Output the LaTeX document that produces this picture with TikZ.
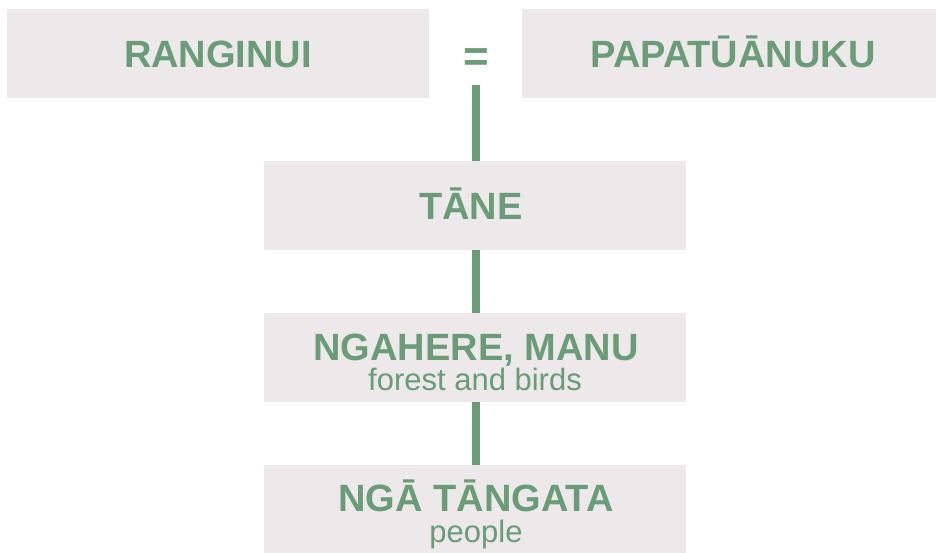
\documentclass[tikz,border=0pt]{standalone}
\usepackage{fontspec}
\setmainfont{Liberation Sans}
\definecolor{boxfill}{HTML}{EDE8E9}
\definecolor{leaf}{HTML}{6A9D77}
\begin{document}
\begin{tikzpicture}[x=1pt,y=-1pt,
  box/.style={fill=boxfill, draw=none, minimum width=422pt, minimum height=89pt, inner sep=0pt},
  head/.style={text=leaf, font=\fontsize{38}{40}\selectfont\bfseries, inner sep=0pt, anchor=base, text depth=0pt},
  sub/.style={text=leaf, font=\fontsize{31}{32}\selectfont, inner sep=0pt, anchor=base, text height=0.55em},
  conn/.style={draw=leaf, line width=8pt}]
\clip (0,0) rectangle (936,552);
\fill[white] (0,0) rectangle (936,552);
\node[box] (rangi) at (218,53.5) {};
\node[box] (papa) at (733,53.5) {};
\node[box] (tane) at (475,205.5) {};
\node[box] (ngahere) at (475,357.5) {};
\node[box] (tangata) at (475,509.5) {};
\node[head] (trangi) at (218,67) {RANGINUI};
\node[head] (tpapa) at (733,67) {PAPATŪĀNUKU};
\node[head, font=\fontsize{44}{44}\selectfont\bfseries] (eq) at (476,71) {=};
\node[head] (ttane) at (471,219) {TĀNE};
\node[head] (tngahere) at (476,360) {NGAHERE, MANU};
\node[sub] (sngahere) at (475,390) {forest and birds};
\node[head] (ttangata) at (476,511.5) {NGĀ TĀNGATA};
\node[sub] (stangata) at (476,542) {people};
\coordinate (top) at (476,85);
\draw[conn] (top) -- (top |- tane.north);
\draw[conn] (tane.south -| top) -- (ngahere.north -| top);
\draw[conn] (ngahere.south -| top) -- (tangata.north -| top);
\end{tikzpicture}
\end{document}
